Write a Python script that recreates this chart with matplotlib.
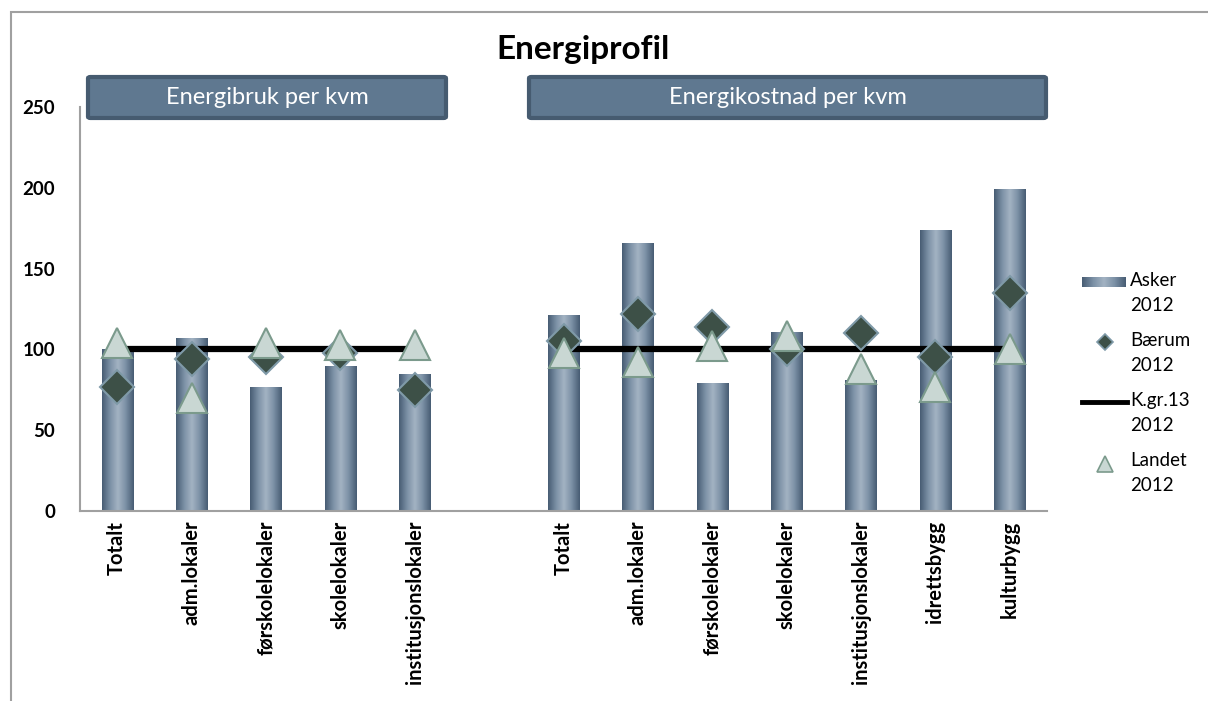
import numpy as np
import matplotlib
matplotlib.use("Agg")
import matplotlib.pyplot as plt
from matplotlib.colors import LinearSegmentedColormap
from matplotlib.lines import Line2D
from matplotlib.patches import Rectangle, FancyBboxPatch

plt.rcParams['font.family'] = ['Lato', 'DejaVu Sans']

# kategorier for de to gruppene
kat_bruk = ['Totalt', 'adm.lokaler', 'førskolelokaler', 'skolelokaler', 'institusjonslokaler']
kat_kost = ['Totalt', 'adm.lokaler', 'førskolelokaler', 'skolelokaler', 'institusjonslokaler',
            'idrettsbygg', 'kulturbygg']

# Asker 2012 (søyler)
asker_bruk = [100, 107, 77, 90, 85]
asker_kost = [121, 166, 79, 111, 81, 174, 199]
# Bærum 2012 (ruter)
baerum_bruk = [77, 94, 95, 98, 75]
baerum_kost = [105, 122, 114, 100, 110, 95, 135]
# K.gr.13 2012 (linje)
kgr_bruk = [100, 100, 100, 100, 100]
kgr_kost = [100, 100, 100, 100, 100, 100, 100]
# Landet 2012 (trekanter)
landet_bruk = [104, 70, 104, 103, 103]
landet_kost = [98, 92, 102, 108, 88, 77, 100]

serier = ['Asker\n2012', 'Bærum\n2012', 'K.gr.13\n2012', 'Landet\n2012']

# en tom plass mellom gruppene
etiketter = kat_bruk + [''] + kat_kost
asker = asker_bruk + [np.nan] + asker_kost
baerum = baerum_bruk + [np.nan] + baerum_kost
kgr = kgr_bruk + [np.nan] + kgr_kost
landet = landet_bruk + [np.nan] + landet_kost
x = np.arange(len(etiketter))

W, H = 1208, 701
fig = plt.figure(figsize=(W / 100, H / 100), dpi=100)
ax = fig.add_axes([80 / W, 1 - 511 / H, 967 / W, 404 / H])

# søyler med horisontal gradient
bredde = 0.42
gradient = LinearSegmentedColormap.from_list(
    'stal', ['#485d74', '#7b90a5', '#a3b3c3', '#7b90a5', '#485d74'])
grad = np.linspace(0, 1, 64).reshape(1, -1)
soyler = ax.bar(x, asker, width=bredde, color='#7e93a8', linewidth=0, zorder=2)
for s in soyler:
    h = s.get_height()
    if np.isnan(h):
        continue
    im = ax.imshow(grad, cmap=gradient, aspect='auto', zorder=2,
                   extent=(s.get_x(), s.get_x() + s.get_width(), 0, h))
    im.set_clip_path(s)

ax.plot(x, kgr, color='black', lw=4.5, solid_capstyle='butt', zorder=3)
ax.plot(x, baerum, ls='none', marker='D', ms=17, mfc='#3d5047',
        mec='#7f9aa8', mew=1.5, zorder=4)
ax.plot(x, landet, ls='none', marker='^', ms=22, mfc='#c9d7d3',
        mec='#7b9a8c', mew=1.5, zorder=5)

ax.set_xlim(-0.5, len(etiketter) - 0.5)
ax.set_ylim(0, 250)
ax.set_yticks([0, 50, 100, 150, 200, 250])
ax.set_xticks(x)
ax.set_xticklabels(etiketter, rotation=90, fontsize=14.5, fontweight='bold')
for t in ax.get_yticklabels():
    t.set_fontsize(13.5)
    t.set_fontweight('bold')
ax.tick_params(axis='y', length=0, pad=18)
ax.tick_params(axis='x', length=0, pad=7)
for side in ['top', 'right']:
    ax.spines[side].set_visible(False)
for side in ['left', 'bottom']:
    ax.spines[side].set_color('#a0a0a0')
    ax.spines[side].set_linewidth(1.5)

fig.text(583 / W, 1 - 50 / H, 'Energiprofil', ha='center', va='center',
         fontsize=24, fontweight='bold')

# overskriftsbokser for de to gruppene
for x0, x1, tekst in [(88, 446, 'Energibruk per kvm'), (529, 1046, 'Energikostnad per kvm')]:
    boks = FancyBboxPatch((x0 / W, 1 - 118 / H), (x1 - x0) / W, 41 / H,
                          boxstyle='round,pad=0,rounding_size=0.002',
                          transform=fig.transFigure, facecolor='#5f7890',
                          edgecolor='#465b70', linewidth=3)
    fig.patches.append(boks)
    fig.text((x0 + x1) / 2 / W, 1 - 98 / H, tekst, ha='center', va='center',
             color='white', fontsize=17)

# ramme rundt diagrammet
fig.patches.append(Rectangle((11 / W, -0.1), 1.2, 1 - 12 / H + 0.1,
                             transform=fig.transFigure, fill=False,
                             edgecolor='#a0a0a0', linewidth=1.5))

# forklaring, symbol på høyde med første tekstlinje
ly = [282, 342, 402, 462]
for yy, navn in zip(ly, serier):
    fig.text(1130 / W, 1 - (yy - 10) / H, navn, ha='left', va='top',
             fontsize=13.5, linespacing=1.6)
sw = fig.add_axes([1082 / W, 1 - 287 / H, 44 / W, 10 / H])
sw.imshow(grad, cmap=gradient, aspect='auto')
sw.axis('off')
fig.add_artist(Line2D([1105 / W], [1 - ly[1] / H], ls='none', marker='D', ms=8,
                      mfc='#3d5047', mec='#7f9aa8', mew=1.2, transform=fig.transFigure))
fig.add_artist(Line2D([1082 / W, 1127 / W], [1 - ly[2] / H] * 2, color='black',
                      lw=3.5, transform=fig.transFigure))
fig.add_artist(Line2D([1105 / W], [1 - (ly[3] + 2) / H], ls='none', marker='^', ms=11,
                      mfc='#c9d7d3', mec='#7b9a8c', mew=1.2, transform=fig.transFigure))

fig.savefig('out.png', dpi=100)
